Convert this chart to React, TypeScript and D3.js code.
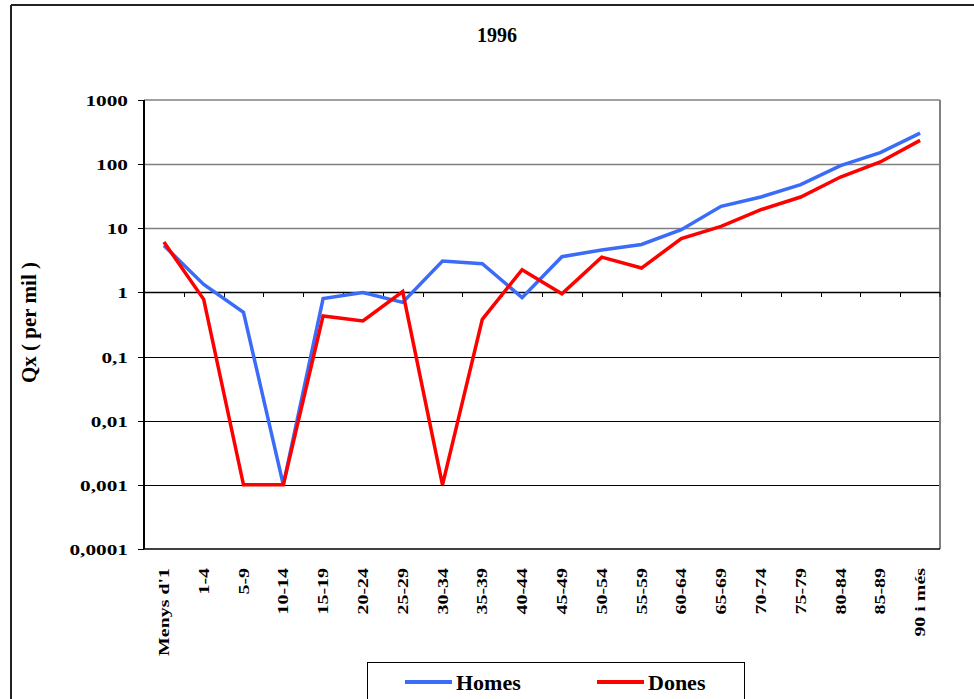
import React from "react";
import * as d3 from "d3";

const ageGroups = [
  "Menys d'1", "1-4", "5-9", "10-14", "15-19", "20-24", "25-29", "30-34", "35-39", "40-44",
  "45-49", "50-54", "55-59", "60-64", "65-69", "70-74", "75-79", "80-84", "85-89", "90 i més",
];

const homes = [5.4, 1.33, 0.49, 0.001, 0.8, 1.0, 0.7, 3.08, 2.8, 0.83, 3.6, 4.6, 5.6, 9.5, 22, 30.7, 48, 95, 151, 305];
const dones = [6.1, 0.78, 0.001, 0.001, 0.43, 0.36, 1.03, 0.001, 0.38, 2.26, 0.95, 3.55, 2.4, 6.9, 10.7, 19.5, 30.7, 63, 108, 235];

const yTicks = [1000, 100, 10, 1, 0.1, 0.01, 0.001, 0.0001];

const series = [
  { name: "Homes", values: homes, color: "#3a6cf8" },
  { name: "Dones", values: dones, color: "#ff0000" },
];

const W = 974;
const H = 699;
const plot = { left: 144, right: 940, top: 100, bottom: 549 };
const font = "'Liberation Serif', 'Times New Roman', serif";

const fmtTick = (v: number) => (v >= 1 ? String(v) : String(v).replace(".", ","));

export default function App() {
  const x = d3.scaleBand<string>().domain(ageGroups).range([plot.left, plot.right]);
  const y = d3.scaleLog().domain([0.0001, 1000]).range([plot.bottom, plot.top]);
  const cx = (c: string) => (x(c) as number) + x.bandwidth() / 2;
  const line = d3
    .line<number>()
    .x((_, i) => cx(ageGroups[i]))
    .y((d) => y(d));
  const y1 = Math.round(y(1));

  return (
    <svg
      width={W}
      height={H}
      style={{ position: "absolute", left: 0, top: 0, background: "#fff" }}
      fontFamily={font}
      fontWeight="bold"
    >
      <rect x={0} y={0} width={W} height={H} fill="#fff" />
      {/* outer frame */}
      <line x1={11} y1={5} x2={W} y2={5} stroke="#222" strokeWidth={2} />
      <line x1={11} y1={5} x2={11} y2={H} stroke="#222" strokeWidth={2} />

      <text x={497} y={42} textAnchor="middle" fontSize={20}>1996</text>

      {/* gridlines */}
      {yTicks.slice(1, -1).map((t) => {
        const yy = Math.round(y(t)) + 0.5;
        if (t === 1) return null;
        return (
          <line
            key={t}
            x1={plot.left}
            x2={plot.right}
            y1={yy}
            y2={yy}
            stroke={t > 1 ? "#808080" : "#000"}
            strokeWidth={t > 1 ? 1.5 : 1}
          />
        );
      })}
      {/* plot border */}
      <line x1={plot.left} x2={plot.right} y1={plot.top} y2={plot.top} stroke="#808080" strokeWidth={1.5} />
      <line x1={plot.right} x2={plot.right} y1={plot.top} y2={plot.bottom} stroke="#808080" strokeWidth={2} />
      <line x1={plot.left} x2={plot.right} y1={plot.bottom} y2={plot.bottom} stroke="#000" strokeWidth={1.5} />

      {/* y axis */}
      <line x1={plot.left} x2={plot.left} y1={plot.top} y2={plot.bottom} stroke="#000" strokeWidth={2} />
      {yTicks.map((t) => {
        const yy = Math.round(y(t)) + 0.5;
        return (
          <g key={t}>
            <line x1={plot.left - 6} x2={plot.left} y1={yy} y2={yy} stroke="#000" strokeWidth={1} />
            <text
              transform={`translate(128,${yy + 5}) scale(1.42,1)`}
              textAnchor="end"
              fontSize={15}
            >
              {fmtTick(t)}
            </text>
          </g>
        );
      })}
      <text
        transform={`translate(36,${(plot.top + plot.bottom) / 2 - 2}) rotate(-90)`}
        textAnchor="middle"
        fontSize={21}
      >
        Qx ( per mil )
      </text>

      {/* x axis at 1 */}
      <line x1={plot.left} x2={plot.right} y1={y1 + 0.5} y2={y1 + 0.5} stroke="#000" strokeWidth={1.5} />
      {ageGroups.map((c) => {
        const bx = Math.round(x(c) as number) + 0.5;
        return <line key={c} x1={bx} x2={bx} y1={y1} y2={y1 + 5} stroke="#000" strokeWidth={1} />;
      })}
      <line x1={plot.right} x2={plot.right} y1={y1} y2={y1 + 5} stroke="#000" strokeWidth={1} />

      {/* x labels */}
      {ageGroups.map((c) => (
        <text
          key={c}
          transform={`translate(${cx(c) + 5},568) rotate(-90) scale(1.33,1)`}
          textAnchor="end"
          fontSize={15}
        >
          {c}
        </text>
      ))}

      {/* series */}
      {series.map((s) => (
        <path
          key={s.name}
          d={line(s.values) || ""}
          fill="none"
          stroke={s.color}
          strokeWidth={3.5}
          strokeLinejoin="miter"
        />
      ))}

      {/* legend */}
      <rect x={367.5} y={662.5} width={377} height={50} fill="#fff" stroke="#000" strokeWidth={1} />
      {series.map((s, i) => {
        const lx = 405 + i * 192;
        return (
          <g key={s.name}>
            <line x1={lx} x2={lx + 47} y1={682} y2={682} stroke={s.color} strokeWidth={4} />
            <text x={lx + 51} y={690} fontSize={22}>{s.name}</text>
          </g>
        );
      })}
    </svg>
  );
}
